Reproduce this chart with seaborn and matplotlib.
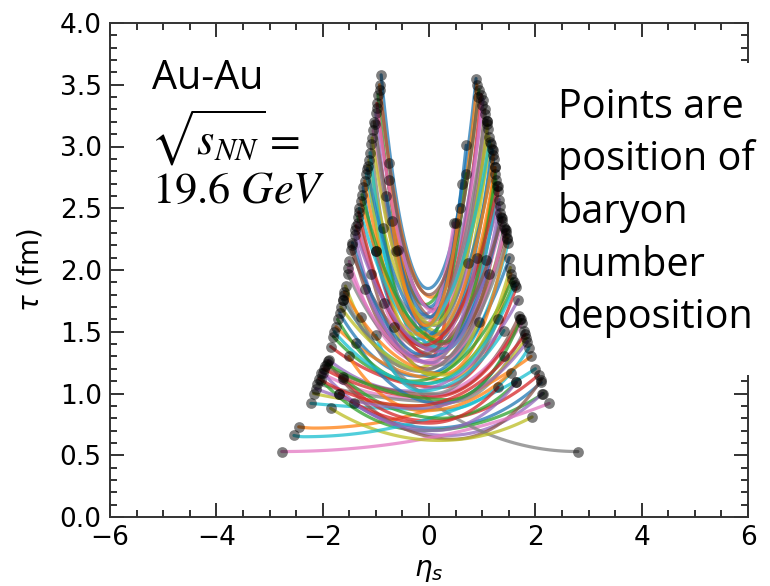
import numpy as np
import pandas as pd
import matplotlib
matplotlib.use("Agg")
import matplotlib.pyplot as plt
import seaborn as sns
from matplotlib.patches import Rectangle
from matplotlib.ticker import MultipleLocator

# ---- data: each string ----
# left end (eta, tau), right end (eta, tau), lowest point (eta, tau)
eta_left = [-0.90, -0.93, -0.96, -0.98, -1.00, -1.03, -1.05, -1.09, -1.13, -1.18,
            -1.24, -1.28, -1.34, -1.37, -1.40, -1.47, -1.50, -1.53, -1.57, -1.62,
            -1.68, -1.75, -1.80, -1.85, -1.88, -1.95, -2.03, -2.10, -2.17, -2.22,
            -1.69, -2.45, -2.03, -1.62, -2.00, -1.90, -2.77, -1.62, -1.85, -2.54,
            -0.75, -0.75, -0.87, -1.00, -0.62, -1.09, -0.85, -1.28, -0.66, -1.00,
            -1.37, -1.51, -1.62, -1.69, -1.41, -0.58, -1.34, -1.00, -1.15, -1.31,
            -1.44, -1.59, -1.72, -1.98, -2.13, -0.92, -0.97, -1.02, -1.07, -1.11,
            -1.16, -1.21, -1.26, -1.32, -1.39, -1.45, -1.52, -1.60, -1.66, -1.78,
            -0.80, -0.70, -1.92, -2.07, -1.20]
tau_left = [3.58, 3.50, 3.42, 3.35, 3.27, 3.20, 3.13, 3.02, 2.89, 2.78,
            2.67, 2.56, 2.43, 2.36, 2.28, 2.16, 2.07, 1.97, 1.87, 1.76,
            1.65, 1.54, 1.46, 1.38, 1.27, 1.22, 1.17, 1.08, 1.00, 0.92,
            1.00, 0.73, 1.11, 1.12, 1.17, 1.26, 0.53, 1.76, 0.88, 0.66,
            2.87, 2.73, 2.34, 2.15, 2.15, 1.97, 1.73, 1.62, 1.54, 1.47,
            1.41, 1.30, 1.13, 1.00, 0.92, 2.16, 2.38, 2.15, 2.84, 2.50,
            2.22, 1.82, 1.60, 1.20, 1.04, 3.46, 3.31, 3.18, 3.07, 2.95,
            2.82, 2.72, 2.61, 2.47, 2.32, 2.20, 2.02, 1.80, 1.70, 1.50,
            2.60, 2.40, 1.24, 1.12, 1.85]
eta_right = [0.885, 0.90, 0.94, 0.98, 1.02, 1.05, 1.09, 1.11, 1.13, 1.20,
             1.22, 1.24, 1.26, 1.30, 1.32, 1.34, 1.38, 1.41, 1.45, 1.49,
             1.51, 1.54, 1.60, 1.64, 1.68, 1.70, 1.75, 1.79, 1.83, 1.88,
             2.11, 1.92, 2.15, 2.06, 2.13, 2.11, 2.26, 2.80, 1.94, 2.00,
             0.70, 1.24, 0.70, 0.51, 1.07, 1.13, 0.73, 1.30, 0.94, 1.41,
             1.41, 1.54, 1.64, 1.30, 1.64, 1.45, 0.47, 1.09, 1.16, 1.28,
             1.36, 1.47, 1.57, 1.73, 1.85, 0.92, 0.99, 1.06, 1.10, 1.14,
             1.18, 1.21, 1.25, 1.29, 1.33, 1.37, 1.43, 1.47, 1.53, 1.62,
             0.62, 0.58, 1.72, 1.81, 0.90]
tau_right = [3.55, 3.50, 3.46, 3.42, 3.38, 3.30, 3.21, 3.14, 3.08, 2.97,
             2.90, 2.83, 2.73, 2.64, 2.57, 2.46, 2.40, 2.35, 2.30, 2.22,
             2.10, 1.97, 1.90, 1.86, 1.76, 1.63, 1.57, 1.51, 1.45, 1.37,
             1.09, 1.30, 1.00, 1.15, 1.00, 1.11, 0.92, 0.53, 0.81, 1.20,
             3.01, 2.83, 2.78, 2.38, 2.08, 1.97, 2.06, 1.60, 1.58, 1.51,
             1.30, 1.17, 1.09, 1.05, 1.09, 2.32, 2.38, 3.21, 3.02, 2.68,
             2.43, 2.26, 1.93, 1.60, 1.42, 3.40, 3.34, 3.26, 3.18, 3.04,
             2.98, 2.93, 2.78, 2.68, 2.52, 2.42, 2.33, 2.25, 2.02, 1.88,
             2.70, 2.50, 1.60, 1.48, 2.10]
eta_min = [-0.02, 0.05, -0.08, 0.10, -0.12, 0.15, 0.00, -0.18, 0.20, 0.05,
           -0.22, 0.25, -0.05, 0.12, -0.28, 0.30, -0.15, 0.18, -0.32, 0.08,
           -0.20, 0.35, -0.10, 0.22, -0.35, 0.15, -0.25, 0.40, 0.00, 0.30,
           0.10, -2.15, -0.10, -0.05, 0.35, 0.45, -2.77, 2.80, 0.20, -2.35,
           0.00, 0.10, -0.10, 0.05, 0.15, -0.05, 0.00, 0.10, 0.05, -0.15,
           0.20, -0.10, 0.25, 0.00, 0.10, 0.20, -0.20, 0.15, -0.30, 0.32,
           0.00, 0.28, -0.30, 0.05, -0.20, 0.00, 0.12, -0.06, 0.08, -0.24,
           0.18, -0.02, 0.28, -0.12, 0.22, -0.26, 0.10, -0.18, 0.30, -0.05,
           0.02, -0.05, 0.38, -0.30, 0.05]
tau_min = [1.85, 1.78, 1.72, 1.68, 1.64, 1.60, 1.57, 1.53, 1.50, 1.47,
           1.44, 1.41, 1.38, 1.35, 1.32, 1.29, 1.26, 1.23, 1.20, 1.17,
           1.14, 1.11, 1.08, 1.05, 1.02, 0.99, 0.96, 0.93, 0.90, 0.87,
           0.72, 0.72, 0.70, 0.78, 0.66, 0.63, 0.53, 0.53, 0.62, 0.65,
           1.70, 1.45, 1.40, 1.30, 1.35, 1.20, 1.25, 1.00, 1.15, 1.02,
           0.92, 0.86, 0.80, 0.76, 0.70, 1.40, 1.50, 1.55, 1.48, 1.36,
           1.30, 1.16, 1.10, 0.97, 0.88, 1.80, 1.66, 1.61, 1.56, 1.51,
           1.48, 1.45, 1.42, 1.39, 1.34, 1.30, 1.24, 1.18, 1.15, 1.08,
           1.62, 1.55, 0.95, 0.90, 1.25]

x_ticks = [-6, -4, -2, 0, 2, 4, 6]
y_ticks = [0.0, 0.5, 1.0, 1.5, 2.0, 2.5, 3.0, 3.5, 4.0]

# ---- build the string curves ----
rows = []
for i in range(len(eta_left)):
    eL, tL, eR, tR = eta_left[i], tau_left[i], eta_right[i], tau_right[i]
    em, tm = eta_min[i], tau_min[i]
    kL = np.arccosh(max(tL / tm, 1.0)) / max(em - eL, 1e-6)
    kR = np.arccosh(max(tR / tm, 1.0)) / max(eR - em, 1e-6)
    e1 = np.linspace(eL, em, 60)
    e2 = np.linspace(em, eR, 60)
    t1 = tm * np.cosh(kL * (e1 - em))
    t2 = tm * np.cosh(kR * (e2 - em))
    for e, t in zip(np.concatenate([e1, e2]), np.concatenate([t1, t2])):
        rows.append((f"s{i}", e, t))
curves = pd.DataFrame(rows, columns=["string", "eta", "tau"])

points = pd.DataFrame({
    "eta": list(eta_left) + list(eta_right),
    "tau": list(tau_left) + list(tau_right),
})

tab = sns.color_palette("tab10", 10)
palette = {f"s{i}": tab[i % 10] for i in range(len(eta_left))}

sns.set_style("ticks")
plt.rcParams["font.family"] = ["DejaVu Sans"]
plt.rcParams["text.color"] = "black"
plt.rcParams["axes.labelcolor"] = "black"

fig = plt.figure(figsize=(7.70, 5.86), dpi=100)
ax = fig.add_axes([110 / 770, 1 - 517 / 586, 638 / 770, 494 / 586])

sns.lineplot(data=curves, x="eta", y="tau", hue="string", palette=palette,
             sort=False, estimator=None, legend=False, linewidth=2.3,
             alpha=0.75, ax=ax)
sns.scatterplot(data=points, x="eta", y="tau", color="black", alpha=0.5,
                s=60, linewidth=0, ax=ax, zorder=5)

ax.set_xlim(-6, 6)
ax.set_ylim(0, 4)
ax.set_xticks(x_ticks)
ax.set_yticks(y_ticks)
ax.xaxis.set_minor_locator(MultipleLocator(0.5))
ax.yaxis.set_minor_locator(MultipleLocator(0.1))
ax.tick_params(which="both", direction="in", top=True, right=True,
               width=1.3, color="#222222", labelcolor="black")
ax.tick_params(which="major", length=10, labelsize=19)
ax.tick_params(axis="x", which="major", pad=6)
ax.tick_params(axis="y", which="major", pad=6)
ax.tick_params(which="minor", length=5)
for sp in ax.spines.values():
    sp.set_visible(True)
    sp.set_linewidth(1.4)
    sp.set_color("#333333")

ax.set_xlabel(r"$\eta_s$", fontsize=20, labelpad=3)
ax.set_ylabel(r"$\tau$ (fm)", fontsize=20, labelpad=11)

# white panel behind the note on the right
fig.add_artist(Rectangle((548 / 770, 1 - 375 / 586), 1 - 548 / 770,
                         (375 - 63) / 586, transform=fig.transFigure,
                         facecolor="white", edgecolor="none", zorder=3))

note = ["Points are", "position of", "baryon", "number", "deposition"]
for j, line in enumerate(note):
    fig.text(558 / 770, 1 - (118 + 52.5 * j) / 586, line, fontsize=28.5,
             family="Open Sans", va="baseline", ha="left", zorder=4)

fig.text(152 / 770, 1 - 89 / 586, "Au-Au", fontsize=28.5, family="Open Sans",
         va="baseline", ha="left", zorder=4)
fig.text(150 / 770, 1 - 155 / 586, r"$\sqrt{s_{NN}}=$", fontsize=32,
         math_fontfamily="stix", va="baseline", ha="left", zorder=4)
fig.text(152 / 770, 1 - 203 / 586, r"19.6 $GeV$", fontsize=32,
         family="STIXGeneral", math_fontfamily="stix", va="baseline",
         ha="left", zorder=4)

fig.savefig("out.png", dpi=100)
